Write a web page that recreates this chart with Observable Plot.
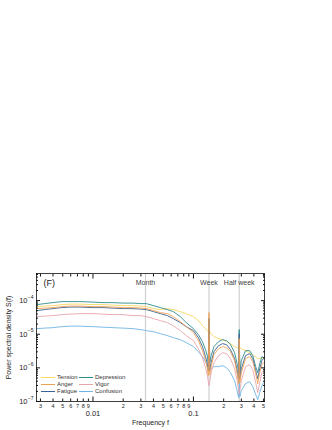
<!DOCTYPE html>
<html><head><meta charset="utf-8">
<script src="https://cdn.jsdelivr.net/npm/d3@7"></script>
<script src="https://cdn.jsdelivr.net/npm/@observablehq/plot@0.6"></script>
<style>
body{margin:0;background:#fff;font-family:"Liberation Sans",Arial,sans-serif;}
#wrap{position:relative;width:332px;height:430px;}
#legend{position:absolute;left:41px;top:373.5px;font-size:6px;color:#333;display:grid;grid-template-columns:38px auto;}
.item{display:flex;align-items:center;height:7px;white-space:nowrap;}
.sw{width:14px;height:0;border-top:1px solid;margin-right:2px;}
</style></head><body><div id="wrap"></div>
<script>
const freq = [0.00275,0.0033,0.004,0.0049,0.0059,0.0074,0.01,0.0126,0.0158,0.02,0.025,0.03,0.034,0.04,0.047,0.055,0.063,0.074,0.085,0.1,0.112,0.123,0.132,0.138,0.1405,0.1429,0.1455,0.15,0.16,0.178,0.195,0.214,0.234,0.257,0.275,0.282,0.2857,0.29,0.3,0.33,0.363,0.39,0.417,0.437,0.457,0.48,0.5];
const tension = [6.63e-5,6.86e-5,7.10e-5,7.60e-5,7.87e-5,7.87e-5,7.60e-5,7.60e-5,7.35e-5,7.10e-5,7.10e-5,6.86e-5,6.63e-5,5.78e-5,5.40e-5,5.78e-5,5.40e-5,4.71e-5,4.10e-5,3.34e-5,2.54e-5,1.80e-5,1.47e-5,1.28e-5,1.19e-5,1.47e-5,1.19e-5,1.04e-5,8.49e-6,7.40e-6,6.91e-6,6.03e-6,5.25e-6,4.28e-6,3.99e-6,3.99e-6,4.58e-6,3.99e-6,3.73e-6,3.25e-6,2.83e-6,2.31e-6,2.16e-6,1.88e-6,1.88e-6,2.01e-6,1.88e-6];
const depression = [7.60e-5,8.14e-5,8.72e-5,9.34e-5,9.34e-5,9.34e-5,9.03e-5,8.72e-5,8.72e-5,8.43e-5,8.43e-5,8.14e-5,8.14e-5,7.10e-5,6.19e-5,5.40e-5,4.71e-5,3.34e-5,2.21e-5,1.47e-5,9.73e-6,6.03e-6,3.48e-6,2.16e-6,1.43e-6,2.91e-5,1.43e-6,2.31e-6,4.28e-6,6.03e-6,6.91e-6,6.45e-6,4.90e-6,2.83e-6,1.16e-6,6.72e-7,1.37e-5,7.20e-7,1.64e-6,3.25e-6,3.25e-6,2.31e-6,1.09e-6,7.20e-7,1.33e-6,2.16e-6,2.01e-6];
const anger = [5.78e-5,5.98e-5,6.19e-5,6.63e-5,6.86e-5,6.86e-5,6.63e-5,6.63e-5,6.41e-5,6.19e-5,6.19e-5,5.98e-5,5.78e-5,5.04e-5,4.40e-5,4.10e-5,3.34e-5,2.37e-5,1.68e-5,1.12e-5,6.45e-6,3.25e-6,1.64e-6,9.46e-7,5.86e-7,4.40e-5,6.28e-7,1.09e-6,2.47e-6,3.73e-6,4.28e-6,3.99e-6,3.03e-6,1.64e-6,5.86e-7,3.39e-7,7.40e-6,3.63e-7,7.20e-7,1.88e-6,2.16e-6,1.53e-6,6.72e-7,3.39e-7,7.20e-7,1.24e-6,1.43e-6];
const fatigue = [5.04e-5,5.40e-5,5.78e-5,6.19e-5,6.41e-5,6.41e-5,6.19e-5,6.19e-5,5.98e-5,5.78e-5,5.78e-5,5.59e-5,5.40e-5,4.71e-5,4.10e-5,3.58e-5,2.91e-5,2.21e-5,1.68e-5,1.28e-5,7.93e-6,4.28e-6,2.16e-6,1.24e-6,8.25e-7,2.91e-5,8.25e-7,1.43e-6,3.03e-6,4.58e-6,5.25e-6,4.90e-6,3.48e-6,1.88e-6,7.20e-7,4.16e-7,1.04e-5,4.77e-7,9.46e-7,2.31e-6,2.65e-6,1.88e-6,8.25e-7,4.77e-7,9.46e-7,1.64e-6,1.88e-6];
const vigor = [3.34e-5,3.46e-5,3.58e-5,3.83e-5,3.96e-5,4.10e-5,4.10e-5,3.96e-5,3.83e-5,3.83e-5,3.58e-5,3.58e-5,3.34e-5,2.91e-5,2.54e-5,2.21e-5,1.80e-5,1.28e-5,9.09e-6,6.45e-6,3.73e-6,2.01e-6,1.01e-6,5.86e-7,3.88e-7,2.95e-7,3.88e-7,7.20e-7,1.43e-6,2.31e-6,2.83e-6,2.65e-6,1.88e-6,9.46e-7,3.63e-7,2.10e-7,1.71e-7,2.10e-7,4.16e-7,1.09e-6,1.24e-6,8.84e-7,3.63e-7,1.83e-7,3.63e-7,7.20e-7,8.25e-7];
const confusion = [1.47e-5,1.52e-5,1.57e-5,1.68e-5,1.74e-5,1.74e-5,1.68e-5,1.62e-5,1.57e-5,1.52e-5,1.47e-5,1.37e-5,1.28e-5,1.19e-5,1.04e-5,9.09e-6,7.93e-6,6.91e-6,5.63e-6,4.28e-6,3.03e-6,2.16e-6,1.53e-6,1.16e-6,8.84e-7,2.31e-6,8.84e-7,9.46e-7,1.09e-6,1.09e-6,1.16e-6,1.01e-6,7.20e-7,4.16e-7,1.83e-7,1.30e-7,4.16e-7,1.40e-7,2.10e-7,3.39e-7,3.88e-7,2.76e-7,1.60e-7,1.13e-7,1.83e-7,2.95e-7,3.63e-7];

const periodDays = [30, 7, 3.5];
const periodLabels = ["Month", "Week", "Half week"];
const xMinorTicks = [0.003,0.004,0.005,0.006,0.007,0.008,0.009,0.02,0.03,0.04,0.05,0.06,0.07,0.08,0.09,0.2,0.3,0.4,0.5];
const xMinorLabels = ["3","4","5","6","7","8","9","2","3","4","5","6","7","8","9","2","3","4","5"];
const xMajorTicks = [0.01, 0.1];
const xMajorLabels = ["0.01", "0.1"];
const yMajorTicks = [1e-7, 1e-6, 1e-5, 1e-4];
const yExponents = ["\u22127", "\u22126", "\u22125", "\u22124"];
const yMinorMult = [2,3,4,5,6,7,8,9];
const yMinorTicks = yMajorTicks.flatMap(d => yMinorMult.map(m => m * d)).filter(v => v < 6.4e-4);

const series = [
  {name: "Confusion", values: confusion, color: "#6fb4e4"},
  {name: "Vigor", values: vigor, color: "#e6a6ae"},
  {name: "Tension", values: tension, color: "#f6d862"},
  {name: "Depression", values: depression, color: "#2e8b8c"},
  {name: "Fatigue", values: fatigue, color: "#3c6290"},
  {name: "Anger", values: anger, color: "#f0a158"}
];
const legendOrder = ["Tension","Depression","Anger","Vigor","Fatigue","Confusion"];

const data = series.flatMap(s => freq.map((f, i) => ({f, v: s.values[i], name: s.name})));
const periodFreq = periodDays.map(p => 1 / p);
const blank = () => "";

const chart = Plot.plot({
  width: 332, height: 430,
  marginLeft: 36, marginRight: 68, marginTop: 273, marginBottom: 29,
  style: {fontFamily: "Liberation Sans, Arial, sans-serif", background: "white", color: "#222"},
  x: {type: "log", domain: [0.00274, 0.51], label: null},
  y: {type: "log", domain: [1e-7, 6.4e-4], label: null},
  color: {domain: series.map(s => s.name), range: series.map(s => s.color)},
  marks: [
    Plot.ruleX(periodFreq, {stroke: "#cfcfcf", strokeWidth: 1.2}),
    Plot.line(data, {x: "f", y: "v", z: "name", stroke: "name", strokeWidth: 0.9}),
    Plot.frame({stroke: "#111", strokeWidth: 0.8}),
    Plot.axisX(xMinorTicks, {anchor: "bottom", tickSize: -2.5, tickFormat: blank, label: null, stroke: "#111"}),
    Plot.axisX(xMajorTicks, {anchor: "bottom", tickSize: -4.5, tickFormat: blank, label: null, stroke: "#111"}),
    Plot.axisX(xMinorTicks, {anchor: "top", tickSize: -2.5, tickFormat: blank, label: null, stroke: "#111"}),
    Plot.axisX(xMajorTicks, {anchor: "top", tickSize: -4.5, tickFormat: blank, label: null, stroke: "#111"}),
    Plot.axisY(yMinorTicks, {anchor: "left", tickSize: -2, tickFormat: blank, label: null, stroke: "#111"}),
    Plot.axisY(yMajorTicks, {anchor: "left", tickSize: -4, tickFormat: blank, label: null, stroke: "#111"}),
    Plot.axisY(yMinorTicks, {anchor: "right", tickSize: -2, tickFormat: blank, label: null, stroke: "#111"}),
    Plot.axisY(yMajorTicks, {anchor: "right", tickSize: -4, tickFormat: blank, label: null, stroke: "#111"}),
    Plot.text(xMinorTicks, {x: d => d, text: (d, i) => xMinorLabels[i], frameAnchor: "bottom", dy: 5, lineAnchor: "middle", textAnchor: "middle", fontSize: 5.5, fill: "#222"}),
    Plot.text(xMajorTicks, {x: d => d, text: (d, i) => xMajorLabels[i], frameAnchor: "bottom", dy: 12, lineAnchor: "middle", textAnchor: "middle", fontSize: 7.5, fill: "#222"}),
    Plot.text(yMajorTicks, {y: d => d, text: () => "10", frameAnchor: "left", dx: -9, textAnchor: "end", lineAnchor: "middle", fontSize: 7.5, fill: "#222"}),
    Plot.text(yMajorTicks, {y: d => d, text: (d, i) => yExponents[i], frameAnchor: "left", dx: -8.7, dy: -3.5, textAnchor: "start", lineAnchor: "middle", fontSize: 5, fill: "#222"}),
    Plot.text(periodFreq, {x: d => d, text: (d, i) => periodLabels[i], frameAnchor: "top", dy: 9, lineAnchor: "middle", textAnchor: "middle", fontSize: 7, fill: "#444"}),
    Plot.text(["(F)"], {frameAnchor: "top-left", dx: 7, dy: 10, textAnchor: "start", lineAnchor: "middle", fontSize: 9, fill: "#222"}),
    Plot.text(["Power spectral density S(f)"], {frameAnchor: "left", dx: -28, rotate: -90, textAnchor: "middle", lineAnchor: "middle", fontSize: 7, fill: "#222"}),
    Plot.text(["Frequency f"], {frameAnchor: "bottom", dy: 21, textAnchor: "middle", lineAnchor: "middle", fontSize: 7, fill: "#222"})
  ]
});
const wrap = document.getElementById("wrap");
wrap.appendChild(chart);
const legend = document.createElement("div");
legend.id = "legend";
for (const name of legendOrder) {
  const s = series.find(d => d.name === name);
  const item = document.createElement("div");
  item.className = "item";
  const sw = document.createElement("span");
  sw.className = "sw";
  sw.style.borderTopColor = s.color;
  const t = document.createElement("span");
  t.textContent = name;
  item.appendChild(sw); item.appendChild(t);
  legend.appendChild(item);
}
wrap.appendChild(legend);
</script></body></html>
